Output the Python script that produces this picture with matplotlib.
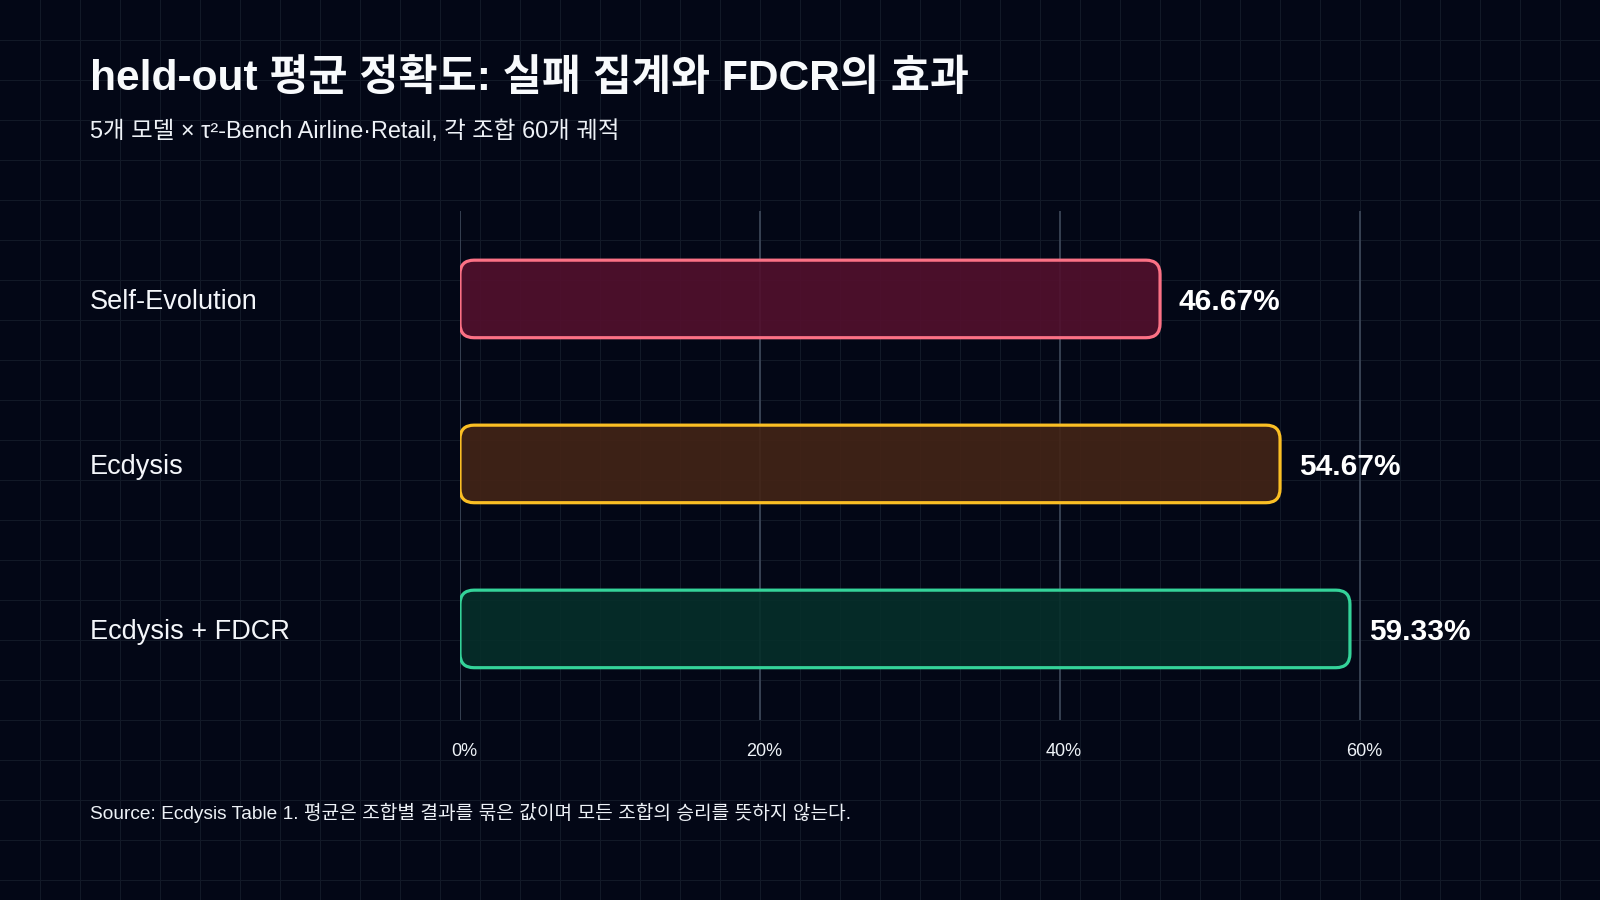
import matplotlib
matplotlib.use("Agg")
import matplotlib.pyplot as plt
from matplotlib.patches import FancyBboxPatch
from matplotlib.lines import Line2D
from matplotlib.transforms import blended_transform_factory, ScaledTranslation

FONT = ["Liberation Sans", "Noto Sans CJK KR", "DejaVu Sans"]
plt.rcParams["font.family"] = FONT

# ---- data ----
categories = ["Self-Evolution", "Ecdysis", "Ecdysis + FDCR"]
values = [46.67, 54.67, 59.33]
value_labels = ["46.67%", "54.67%", "59.33%"]
x_ticks = [0, 20, 40, 60]
x_tick_labels = ["0%", "20%", "40%", "60%"]
edge_colors = ["#fb7185", "#fbbf24", "#34d399"]
fill_colors = ["#52102d", "#432416", "#062f2a"]

title = "held-out 평균 정확도: 실패 집계와 FDCR의 효과"
subtitle = "5개 모델 × τ²-Bench Airline·Retail, 각 조합 60개 궤적"
source = "Source: Ecdysis Table 1. 평균은 조합별 결과를 묶은 값이며 모든 조합의 승리를 뜻하지 않는다."

BG = "#030716"
W, H = 1600, 900
fig = plt.figure(figsize=(16, 9), dpi=100, facecolor=BG)

# background grid (every 40 px)
for k in range(1, W // 40):
    fig.add_artist(Line2D([k * 40 / W] * 2, [0, 1], transform=fig.transFigure,
                          color="#121927", lw=0.8, zorder=-5))
for k in range(1, H // 40 + 1):
    fig.add_artist(Line2D([0, 1], [1 - k * 40 / H] * 2, transform=fig.transFigure,
                          color="#121927", lw=0.8, zorder=-5))

ax = fig.add_axes([460 / W, 180 / H, 990 / W, 509 / H])
ax.set_facecolor("none")
for s in ax.spines.values():
    s.set_visible(False)
ax.set_xlim(0, 66)
ax.set_ylim(2.552, -0.533)

ypos = list(range(len(categories)))
bars = ax.barh(ypos, values, height=0.47, color="none", edgecolor="none")

# rounded bars
px_x = ax.transData.transform((1, 0))[0] - ax.transData.transform((0, 0))[0]
px_y = abs(ax.transData.transform((0, 1))[1] - ax.transData.transform((0, 0))[1])
radius_px = 14
for rect, fc, ec in zip(bars, fill_colors, edge_colors):
    x0, y0 = rect.get_x(), rect.get_y()
    w, h = rect.get_width(), rect.get_height()
    p = FancyBboxPatch((x0, y0), w, h,
                       boxstyle=f"round,pad=0,rounding_size={radius_px / px_x}",
                       mutation_aspect=px_x / px_y,
                       facecolor=matplotlib.colors.to_rgba(fc, 0.9),
                       edgecolor=ec, linewidth=2.3, zorder=3)
    ax.add_patch(p)
    rect.set_visible(False)

# value labels
for yv, v, lab in zip(ypos, values, value_labels):
    ax.annotate(lab, (v, yv), xytext=(13.5, -2.2), textcoords="offset points",
                va="center", ha="left", fontsize=21.5, fontweight="bold",
                color="#ffffff", family=FONT, zorder=4)

# vertical grid lines at ticks
ax.set_xticks(x_ticks, x_tick_labels)
ax.xaxis.grid(True, color="#3a4556", linewidth=1.3)
ax.set_axisbelow(True)
ax.tick_params(axis="x", length=0, pad=16.5, labelsize=13, labelcolor="#eef2f7")
shift = ScaledTranslation(4 / 100, 0, fig.dpi_scale_trans)
for lbl in ax.get_xticklabels():
    lbl.set_transform(lbl.get_transform() + shift)
ax.set_yticks([])

# category labels
tr = blended_transform_factory(fig.transFigure, ax.transData)
for yv, c in zip(ypos, categories):
    ax.annotate(c, (90 / W, yv), xycoords=tr, xytext=(0, -2.2),
                textcoords="offset points", ha="left", va="center",
                fontsize=19.5, color="#f4f6fa", family=FONT)

# titles
fig.text(90 / W, 1 - 90 / H, title, ha="left", va="baseline",
         fontsize=30.6, fontweight="bold", color="#f8fafc", family=FONT)
fig.text(90 / W, 1 - 138 / H, subtitle, ha="left", va="baseline",
         fontsize=16.9, color="#eef2f7", family=FONT)
fig.text(90 / W, 1 - 819 / H, source, ha="left", va="baseline",
         fontsize=13.8, color="#eef2f7", family=FONT)

fig.savefig("out.png", dpi=100, facecolor=BG)
